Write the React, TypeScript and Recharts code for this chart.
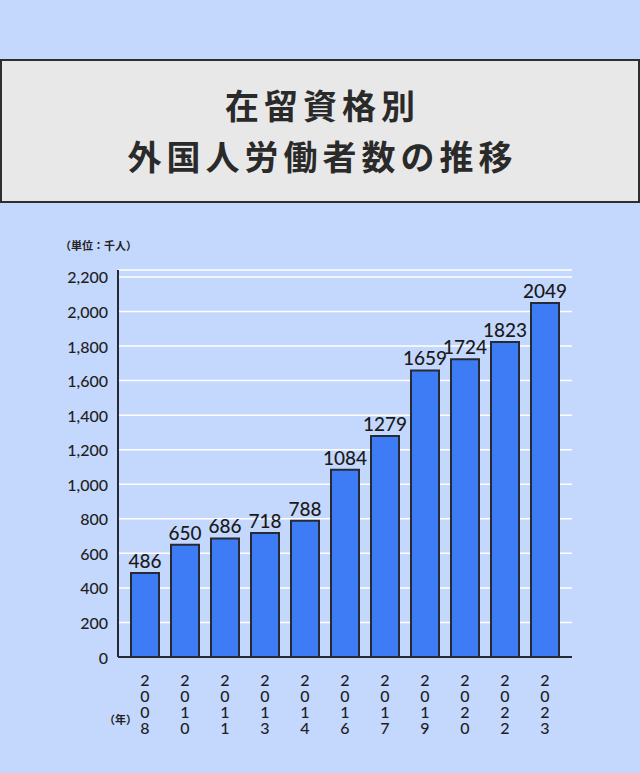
import React from "react";
import { BarChart, Bar, XAxis, YAxis, CartesianGrid, LabelList } from "recharts";

const years = ["2008", "2010", "2011", "2013", "2014", "2016", "2017", "2019", "2020", "2022", "2023"];
const workers = [486, 650, 686, 718, 788, 1084, 1279, 1659, 1724, 1823, 2049];
const yTicks = [0, 200, 400, 600, 800, 1000, 1200, 1400, 1600, 1800, 2000, 2200];
const titleLines = ["在留資格別", "外国人労働者数の推移"];
const unitLabel = "（単位：千人）";
const yearLabel = "（年）";

const data = years.map((y, i) => ({ year: y, value: workers[i] }));

const numFont = "Lato, 'Noto Sans', sans-serif";
const jpFont = "'Noto Sans CJK JP', sans-serif";

const YTick = (props: any) => {
  const { y, payload } = props;
  return (
    <text x={108} y={y} textAnchor="end" dominantBaseline="central" fontFamily={numFont} fontSize={16} fontWeight={500} fill="#1f1f1f">
      {Number(payload.value).toLocaleString("en-US")}
    </text>
  );
};

const XTick = (props: any) => {
  const { x, y, payload } = props;
  const digits = String(payload.value).split("");
  return (
    <text x={x} y={y + 21} textAnchor="middle" fontFamily={numFont} fontSize={16} fontWeight={500} fill="#1f1f1f">
      {digits.map((d, i) => (
        <tspan key={i} x={x} dy={i === 0 ? 0 : 16}>
          {d}
        </tspan>
      ))}
    </text>
  );
};

export default function App() {
  return (
    <div style={{ position: "absolute", left: 0, top: 0, width: 640, height: 773, background: "#c4d7fc", overflow: "hidden" }}>
      <div
        style={{
          position: "absolute",
          left: 0,
          top: 59,
          width: 640,
          height: 144,
          boxSizing: "border-box",
          border: "2px solid #2e2e2e",
          background: "#e8e8e8",
          display: "flex",
          flexDirection: "column",
          alignItems: "center",
          justifyContent: "center",
          fontFamily: jpFont,
          fontWeight: 700,
          fontSize: 34,
          letterSpacing: 5,
          color: "#2a2a2a",
          lineHeight: "53px",
        }}
      >
        {titleLines.map((t) => (
          <div key={t} style={{ paddingLeft: 5, marginTop: -2 }}>{t}</div>
        ))}
      </div>
      <div style={{ position: "absolute", left: 0, top: 0 }}>
        <BarChart width={640} height={773} data={data} margin={{ top: 270, right: 68, bottom: 0, left: 0 }}>
          <CartesianGrid horizontal vertical={false} stroke="#ffffff" strokeWidth={1.5} />
          <XAxis
            dataKey="year"
            height={116}
            interval={0}
            tickLine={false}
            axisLine={{ stroke: "#262a33", strokeWidth: 2 }}
            tick={<XTick />}
            padding={{ left: 7, right: 7 }}
          />
          <YAxis
            width={118}
            domain={[0, 2240]}
            ticks={yTicks}
            interval={0}
            tickLine={false}
            axisLine={{ stroke: "#262a33", strokeWidth: 2 }}
            tick={<YTick />}
          />
          <Bar dataKey="value" fill="#3d7cf5" stroke="#262a33" strokeWidth={2} barSize={28} isAnimationActive={false}>
            <LabelList dataKey="value" position="top" offset={5} fontFamily={numFont} fontSize={19} fontWeight={500} fill="#1a1a1a" />
          </Bar>
        </BarChart>
      </div>
      <div style={{ position: "absolute", left: 60, top: 237, fontFamily: jpFont, fontSize: 11, fontWeight: 700, color: "#222", whiteSpace: "nowrap" }}>
        {unitLabel}
      </div>
      <div style={{ position: "absolute", left: 104, top: 711, fontFamily: jpFont, fontSize: 11, fontWeight: 700, color: "#222", whiteSpace: "nowrap" }}>
        {yearLabel}
      </div>
    </div>
  );
}
